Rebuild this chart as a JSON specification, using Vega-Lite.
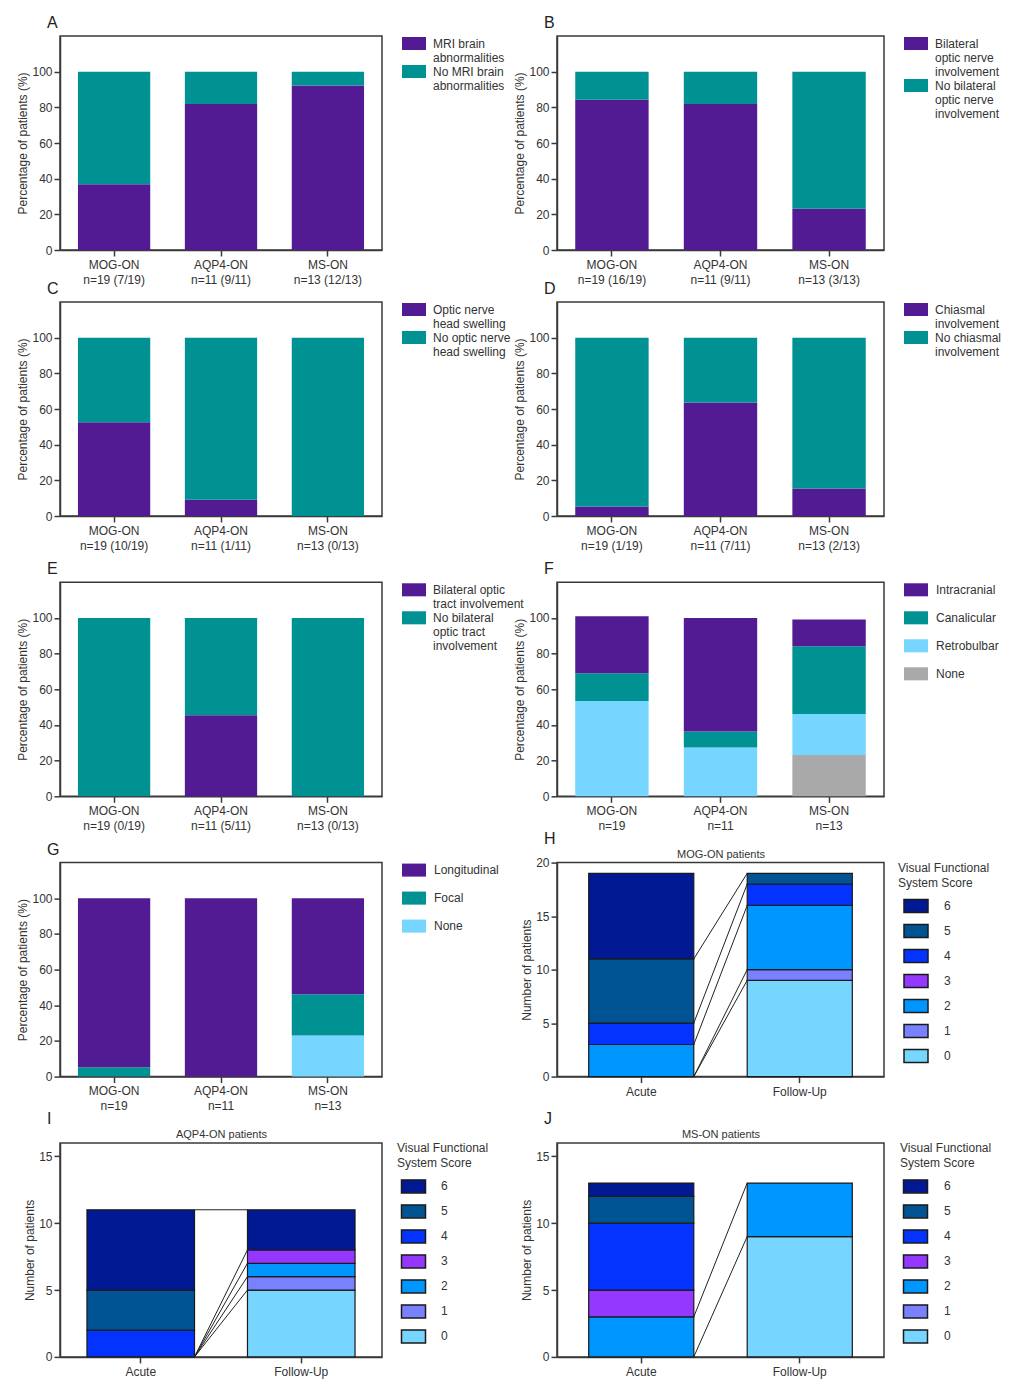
{
  "$schema": "https://vega.github.io/schema/vega-lite/v6.json",
  "padding": {"left": 16, "top": 14, "right": 2, "bottom": 2},
  "spacing": -6,
  "resolve": {"scale": {"color": "independent"}, "legend": {"color": "independent"}},
  "config": {
    "font": "Liberation Sans",
    "view": {"stroke": "#3a3a3a", "strokeWidth": 1.5},
    "axis": {"domainColor": "#3a3a3a", "domainWidth": 1.5, "tickColor": "#3a3a3a", "tickWidth": 1.5, "tickSize": 6, "labelFontSize": 12, "labelColor": "#333", "titleFontSize": 12, "titleFontWeight": "normal", "titleColor": "#333", "grid": false},
    "axisY": {"titlePadding": 2, "labelPadding": 2},
    "axisX": {"labelPadding": 3, "labelAngle": 0},
    "legend": {"labelFontSize": 12, "labelColor": "#333", "titleFontSize": 12, "titleFontWeight": "normal", "titleColor": "#333", "symbolType": "M-1.6,-0.87H1.6V0.87H-1.6Z", "symbolSize": 225, "symbolStrokeWidth": 0, "symbolOffset": 4.5, "offset": 20, "labelOffset": 11.5},
    "title": {"anchor": "start", "frame": "group", "fontSize": 16, "fontWeight": "normal", "dx": -13, "offset": 5, "color": "#222"}
  },
  "vconcat": [
    {
      "bounds": "flush",
      "spacing": 175,
      "resolve": {"scale": {"color": "independent"}, "legend": {"color": "independent"}},
      "hconcat": [
        {
          "title": {"text": "A"},
          "width": 322, "height": 214,
          "data": {"values": [
            {"g": "MOG-ON\nn=19 (7/19)", "c": "MRI brain\nabnormalities", "k": 1, "pct": 36.8},
            {"g": "MOG-ON\nn=19 (7/19)", "c": "No MRI brain\nabnormalities", "k": 2, "pct": 63.2},
            {"g": "AQP4-ON\nn=11 (9/11)", "c": "MRI brain\nabnormalities", "k": 1, "pct": 81.8},
            {"g": "AQP4-ON\nn=11 (9/11)", "c": "No MRI brain\nabnormalities", "k": 2, "pct": 18.2},
            {"g": "MS-ON\nn=13 (12/13)", "c": "MRI brain\nabnormalities", "k": 1, "pct": 92.3},
            {"g": "MS-ON\nn=13 (12/13)", "c": "No MRI brain\nabnormalities", "k": 2, "pct": 7.7}
          ]},
          "mark": "bar",
          "encoding": {
            "x": {"field": "g", "type": "nominal", "sort": null, "title": null, "scale": {"paddingInner": 0.324, "paddingOuter": 0.168}, "axis": {"labelExpr": "split(datum.label, '\\n')", "labelLineHeight": 15}},
            "y": {"field": "pct", "type": "quantitative", "scale": {"domain": [0, 120]}, "axis": {"values": [0, 20, 40, 60, 80, 100], "title": "Percentage of patients (%)"}},
            "color": {"field": "c", "type": "nominal", "title": null, "scale": {"domain": ["MRI brain\nabnormalities", "No MRI brain\nabnormalities"], "range": ["#531B93", "#009193"]}, "legend": {"labelExpr": "split(datum.label, '\\n')", "rowPadding": 0}},
            "order": {"field": "k", "type": "quantitative"}
          }
        },
        {
          "title": {"text": "B"},
          "width": 327, "height": 214,
          "data": {"values": [
            {"g": "MOG-ON\nn=19 (16/19)", "c": "Bilateral\noptic nerve\ninvolvement", "k": 1, "pct": 84.2},
            {"g": "MOG-ON\nn=19 (16/19)", "c": "No bilateral\noptic nerve\ninvolvement", "k": 2, "pct": 15.8},
            {"g": "AQP4-ON\nn=11 (9/11)", "c": "Bilateral\noptic nerve\ninvolvement", "k": 1, "pct": 81.8},
            {"g": "AQP4-ON\nn=11 (9/11)", "c": "No bilateral\noptic nerve\ninvolvement", "k": 2, "pct": 18.2},
            {"g": "MS-ON\nn=13 (3/13)", "c": "Bilateral\noptic nerve\ninvolvement", "k": 1, "pct": 23.1},
            {"g": "MS-ON\nn=13 (3/13)", "c": "No bilateral\noptic nerve\ninvolvement", "k": 2, "pct": 76.9}
          ]},
          "mark": "bar",
          "encoding": {
            "x": {"field": "g", "type": "nominal", "sort": null, "title": null, "scale": {"paddingInner": 0.324, "paddingOuter": 0.168}, "axis": {"labelExpr": "split(datum.label, '\\n')", "labelLineHeight": 15}},
            "y": {"field": "pct", "type": "quantitative", "scale": {"domain": [0, 120]}, "axis": {"values": [0, 20, 40, 60, 80, 100], "title": "Percentage of patients (%)"}},
            "color": {"field": "c", "type": "nominal", "title": null, "scale": {"domain": ["Bilateral\noptic nerve\ninvolvement", "No bilateral\noptic nerve\ninvolvement"], "range": ["#531B93", "#009193"]}, "legend": {"labelExpr": "split(datum.label, '\\n')", "rowPadding": 0}},
            "order": {"field": "k", "type": "quantitative"}
          }
        }
      ]
    },
    {
      "columns": 2,
      "bounds": "flush",
      "spacing": {"row": 66.3, "column": 175},
      "resolve": {"scale": {"color": "independent"}, "legend": {"color": "independent"}},
      "concat": [
        {
          "title": {"text": "C"},
          "width": 322, "height": 214,
          "data": {"values": [
            {"g": "MOG-ON\nn=19 (10/19)", "c": "Optic nerve\nhead swelling", "k": 1, "pct": 52.6},
            {"g": "MOG-ON\nn=19 (10/19)", "c": "No optic nerve\nhead swelling", "k": 2, "pct": 47.4},
            {"g": "AQP4-ON\nn=11 (1/11)", "c": "Optic nerve\nhead swelling", "k": 1, "pct": 9.1},
            {"g": "AQP4-ON\nn=11 (1/11)", "c": "No optic nerve\nhead swelling", "k": 2, "pct": 90.9},
            {"g": "MS-ON\nn=13 (0/13)", "c": "No optic nerve\nhead swelling", "k": 2, "pct": 100}
          ]},
          "mark": "bar",
          "encoding": {
            "x": {"field": "g", "type": "nominal", "sort": null, "title": null, "scale": {"paddingInner": 0.324, "paddingOuter": 0.168}, "axis": {"labelExpr": "split(datum.label, '\\n')", "labelLineHeight": 15}},
            "y": {"field": "pct", "type": "quantitative", "scale": {"domain": [0, 120]}, "axis": {"values": [0, 20, 40, 60, 80, 100], "title": "Percentage of patients (%)"}},
            "color": {"field": "c", "type": "nominal", "title": null, "scale": {"domain": ["Optic nerve\nhead swelling", "No optic nerve\nhead swelling"], "range": ["#531B93", "#009193"]}, "legend": {"labelExpr": "split(datum.label, '\\n')", "rowPadding": 0}},
            "order": {"field": "k", "type": "quantitative"}
          }
        },
        {
          "title": {"text": "D"},
          "width": 327, "height": 214,
          "data": {"values": [
            {"g": "MOG-ON\nn=19 (1/19)", "c": "Chiasmal\ninvolvement", "k": 1, "pct": 5.3},
            {"g": "MOG-ON\nn=19 (1/19)", "c": "No chiasmal\ninvolvement", "k": 2, "pct": 94.7},
            {"g": "AQP4-ON\nn=11 (7/11)", "c": "Chiasmal\ninvolvement", "k": 1, "pct": 63.6},
            {"g": "AQP4-ON\nn=11 (7/11)", "c": "No chiasmal\ninvolvement", "k": 2, "pct": 36.4},
            {"g": "MS-ON\nn=13 (2/13)", "c": "Chiasmal\ninvolvement", "k": 1, "pct": 15.4},
            {"g": "MS-ON\nn=13 (2/13)", "c": "No chiasmal\ninvolvement", "k": 2, "pct": 84.6}
          ]},
          "mark": "bar",
          "encoding": {
            "x": {"field": "g", "type": "nominal", "sort": null, "title": null, "scale": {"paddingInner": 0.324, "paddingOuter": 0.168}, "axis": {"labelExpr": "split(datum.label, '\\n')", "labelLineHeight": 15}},
            "y": {"field": "pct", "type": "quantitative", "scale": {"domain": [0, 120]}, "axis": {"values": [0, 20, 40, 60, 80, 100], "title": "Percentage of patients (%)"}},
            "color": {"field": "c", "type": "nominal", "title": null, "scale": {"domain": ["Chiasmal\ninvolvement", "No chiasmal\ninvolvement"], "range": ["#531B93", "#009193"]}, "legend": {"labelExpr": "split(datum.label, '\\n')", "rowPadding": 0}},
            "order": {"field": "k", "type": "quantitative"}
          }
        },
        {
          "title": {"text": "E"},
          "width": 322, "height": 214,
          "data": {"values": [
            {"g": "MOG-ON\nn=19 (0/19)", "c": "No bilateral\noptic tract\ninvolvement", "k": 2, "pct": 100},
            {"g": "AQP4-ON\nn=11 (5/11)", "c": "Bilateral optic\ntract involvement", "k": 1, "pct": 45.5},
            {"g": "AQP4-ON\nn=11 (5/11)", "c": "No bilateral\noptic tract\ninvolvement", "k": 2, "pct": 54.5},
            {"g": "MS-ON\nn=13 (0/13)", "c": "No bilateral\noptic tract\ninvolvement", "k": 2, "pct": 100}
          ]},
          "mark": "bar",
          "encoding": {
            "x": {"field": "g", "type": "nominal", "sort": null, "title": null, "scale": {"paddingInner": 0.324, "paddingOuter": 0.168}, "axis": {"labelExpr": "split(datum.label, '\\n')", "labelLineHeight": 15}},
            "y": {"field": "pct", "type": "quantitative", "scale": {"domain": [0, 120]}, "axis": {"values": [0, 20, 40, 60, 80, 100], "title": "Percentage of patients (%)"}},
            "color": {"field": "c", "type": "nominal", "title": null, "scale": {"domain": ["Bilateral optic\ntract involvement", "No bilateral\noptic tract\ninvolvement"], "range": ["#531B93", "#009193"]}, "legend": {"labelExpr": "split(datum.label, '\\n')", "rowPadding": 0}},
            "order": {"field": "k", "type": "quantitative"}
          }
        },
        {
          "title": {"text": "F"},
          "width": 327, "height": 214,
          "data": {"values": [
            {"g": "MOG-ON\nn=19", "c": "Retrobulbar", "k": 2, "pct": 53.5},
            {"g": "MOG-ON\nn=19", "c": "Canalicular", "k": 3, "pct": 15.5},
            {"g": "MOG-ON\nn=19", "c": "Intracranial", "k": 4, "pct": 32},
            {"g": "AQP4-ON\nn=11", "c": "Retrobulbar", "k": 2, "pct": 27.3},
            {"g": "AQP4-ON\nn=11", "c": "Canalicular", "k": 3, "pct": 9.1},
            {"g": "AQP4-ON\nn=11", "c": "Intracranial", "k": 4, "pct": 63.6},
            {"g": "MS-ON\nn=13", "c": "None", "k": 1, "pct": 23.1},
            {"g": "MS-ON\nn=13", "c": "Retrobulbar", "k": 2, "pct": 23.1},
            {"g": "MS-ON\nn=13", "c": "Canalicular", "k": 3, "pct": 38},
            {"g": "MS-ON\nn=13", "c": "Intracranial", "k": 4, "pct": 15}
          ]},
          "mark": "bar",
          "encoding": {
            "x": {"field": "g", "type": "nominal", "sort": null, "title": null, "scale": {"paddingInner": 0.324, "paddingOuter": 0.168}, "axis": {"labelExpr": "split(datum.label, '\\n')", "labelLineHeight": 15}},
            "y": {"field": "pct", "type": "quantitative", "scale": {"domain": [0, 120]}, "axis": {"values": [0, 20, 40, 60, 80, 100], "title": "Percentage of patients (%)"}},
            "color": {"field": "c", "type": "nominal", "title": null, "scale": {"domain": ["Intracranial", "Canalicular", "Retrobulbar", "None"], "range": ["#531B93", "#009193", "#76D6FF", "#A9A9A9"]}, "legend": {"rowPadding": 13, "labelOffset": 12.5}},
            "order": {"field": "k", "type": "quantitative"}
          }
        },
        {
          "title": {"text": "G"},
          "width": 322, "height": 214,
          "data": {"values": [
            {"g": "MOG-ON\nn=19", "c": "Focal", "k": 2, "pct": 5.3},
            {"g": "MOG-ON\nn=19", "c": "Longitudinal", "k": 3, "pct": 94.7},
            {"g": "AQP4-ON\nn=11", "c": "Longitudinal", "k": 3, "pct": 100},
            {"g": "MS-ON\nn=13", "c": "None", "k": 1, "pct": 23.1},
            {"g": "MS-ON\nn=13", "c": "Focal", "k": 2, "pct": 23.1},
            {"g": "MS-ON\nn=13", "c": "Longitudinal", "k": 3, "pct": 53.8}
          ]},
          "mark": "bar",
          "encoding": {
            "x": {"field": "g", "type": "nominal", "sort": null, "title": null, "scale": {"paddingInner": 0.324, "paddingOuter": 0.168}, "axis": {"labelExpr": "split(datum.label, '\\n')", "labelLineHeight": 15}},
            "y": {"field": "pct", "type": "quantitative", "scale": {"domain": [0, 120]}, "axis": {"values": [0, 20, 40, 60, 80, 100], "title": "Percentage of patients (%)"}},
            "color": {"field": "c", "type": "nominal", "title": null, "scale": {"domain": ["Longitudinal", "Focal", "None"], "range": ["#531B93", "#009193", "#76D6FF"]}, "legend": {"rowPadding": 13, "labelOffset": 12.5}},
            "order": {"field": "k", "type": "quantitative"}
          }
        },
        {
          "title": {"text": "H", "offset": 2},
          "width": 327, "height": 214,
          "layer": [
            {
              "data": {"values": [
                {"t": "Acute", "s": 2, "n": 3}, {"t": "Acute", "s": 4, "n": 2}, {"t": "Acute", "s": 5, "n": 6}, {"t": "Acute", "s": 6, "n": 8},
                {"t": "Follow-Up", "s": 0, "n": 9}, {"t": "Follow-Up", "s": 1, "n": 1}, {"t": "Follow-Up", "s": 2, "n": 6}, {"t": "Follow-Up", "s": 4, "n": 2}, {"t": "Follow-Up", "s": 5, "n": 1}
              ]},
              "mark": {"type": "bar", "stroke": "#1a1a1a", "strokeWidth": 1.2},
              "encoding": {
                "x": {"field": "t", "type": "nominal", "title": null, "scale": {"paddingInner": 0.337, "paddingOuter": 0.2}, "axis": {"labelPadding": 4}},
                "y": {"field": "n", "type": "quantitative", "scale": {"domain": [0, 20]}, "axis": {"values": [0, 5, 10, 15, 20]}, "title": "Number of patients"},
                "color": {"field": "s", "type": "nominal", "scale": {"domain": [6, 5, 4, 3, 2, 1, 0], "range": ["#011993", "#005493", "#0433FF", "#9437FF", "#0096FF", "#7A81FF", "#76D6FF"]}, "legend": {"title": ["Visual Functional", "System Score"], "titleAlign": "left", "titleAnchor": "start", "titleLineHeight": 15, "titlePadding": 8, "symbolStrokeColor": "#1a1a1a", "symbolStrokeWidth": 1.5, "symbolOffset": 9.5, "labelOffset": 19.5, "rowPadding": 4, "offset": 14}},
                "order": {"field": "s", "type": "quantitative"}
              }
            },
            {
              "data": {"values": [
                {"a": "Acute", "b": "Follow-Up", "from": 11, "to": 19},
                {"a": "Acute", "b": "Follow-Up", "from": 5, "to": 18},
                {"a": "Acute", "b": "Follow-Up", "from": 3, "to": 16},
                {"a": "Acute", "b": "Follow-Up", "from": 0, "to": 10},
                {"a": "Acute", "b": "Follow-Up", "from": 0, "to": 9}
              ]},
              "mark": {"type": "rule", "color": "#222", "strokeWidth": 1},
              "encoding": {
                "x": {"field": "a", "type": "nominal", "bandPosition": 1, "axis": {"orient": "top", "title": "MOG-ON patients", "titleFontSize": 11, "labels": false, "ticks": false, "domain": false, "titlePadding": 3}},
                "x2": {"field": "b", "bandPosition": 0},
                "y": {"field": "from", "type": "quantitative", "title": "Number of patients"},
                "y2": {"field": "to"}
              }
            }
          ],
          "resolve": {"axis": {"x": "independent"}}
        },
        {
          "title": {"text": "I", "offset": 2},
          "width": 322, "height": 214,
          "layer": [
            {
              "data": {"values": [
                {"t": "Acute", "s": 4, "n": 2}, {"t": "Acute", "s": 5, "n": 3}, {"t": "Acute", "s": 6, "n": 6},
                {"t": "Follow-Up", "s": 0, "n": 5}, {"t": "Follow-Up", "s": 1, "n": 1}, {"t": "Follow-Up", "s": 2, "n": 1}, {"t": "Follow-Up", "s": 3, "n": 1}, {"t": "Follow-Up", "s": 6, "n": 3}
              ]},
              "mark": {"type": "bar", "stroke": "#1a1a1a", "strokeWidth": 1.2},
              "encoding": {
                "x": {"field": "t", "type": "nominal", "title": null, "scale": {"paddingInner": 0.33, "paddingOuter": 0.168}, "axis": {"labelPadding": 4}},
                "y": {"field": "n", "type": "quantitative", "scale": {"domain": [0, 15]}, "axis": {"values": [0, 5, 10, 15]}, "title": "Number of patients"},
                "color": {"field": "s", "type": "nominal", "scale": {"domain": [6, 5, 4, 3, 2, 1, 0], "range": ["#011993", "#005493", "#0433FF", "#9437FF", "#0096FF", "#7A81FF", "#76D6FF"]}, "legend": {"title": ["Visual Functional", "System Score"], "titleAlign": "left", "titleAnchor": "start", "titleLineHeight": 15, "titlePadding": 8, "symbolStrokeColor": "#1a1a1a", "symbolStrokeWidth": 1.5, "symbolOffset": 8, "labelOffset": 19, "rowPadding": 4, "offset": 15}},
                "order": {"field": "s", "type": "quantitative"}
              }
            },
            {
              "data": {"values": [
                {"a": "Acute", "b": "Follow-Up", "from": 11, "to": 11},
                {"a": "Acute", "b": "Follow-Up", "from": 0, "to": 8},
                {"a": "Acute", "b": "Follow-Up", "from": 0, "to": 7},
                {"a": "Acute", "b": "Follow-Up", "from": 0, "to": 6},
                {"a": "Acute", "b": "Follow-Up", "from": 0, "to": 5}
              ]},
              "mark": {"type": "rule", "color": "#222", "strokeWidth": 1},
              "encoding": {
                "x": {"field": "a", "type": "nominal", "bandPosition": 1, "axis": {"orient": "top", "title": "AQP4-ON patients", "titleFontSize": 11, "labels": false, "ticks": false, "domain": false, "titlePadding": 3}},
                "x2": {"field": "b", "bandPosition": 0},
                "y": {"field": "from", "type": "quantitative", "title": "Number of patients"},
                "y2": {"field": "to"}
              }
            }
          ],
          "resolve": {"axis": {"x": "independent"}}
        },
        {
          "title": {"text": "J", "offset": 2},
          "width": 327, "height": 214,
          "layer": [
            {
              "data": {"values": [
                {"t": "Acute", "s": 2, "n": 3}, {"t": "Acute", "s": 3, "n": 2}, {"t": "Acute", "s": 4, "n": 5}, {"t": "Acute", "s": 5, "n": 2}, {"t": "Acute", "s": 6, "n": 1},
                {"t": "Follow-Up", "s": 0, "n": 9}, {"t": "Follow-Up", "s": 2, "n": 4}
              ]},
              "mark": {"type": "bar", "stroke": "#1a1a1a", "strokeWidth": 1.2},
              "encoding": {
                "x": {"field": "t", "type": "nominal", "title": null, "scale": {"paddingInner": 0.337, "paddingOuter": 0.2}, "axis": {"labelPadding": 4}},
                "y": {"field": "n", "type": "quantitative", "scale": {"domain": [0, 15]}, "axis": {"values": [0, 5, 10, 15]}, "title": "Number of patients"},
                "color": {"field": "s", "type": "nominal", "scale": {"domain": [6, 5, 4, 3, 2, 1, 0], "range": ["#011993", "#005493", "#0433FF", "#9437FF", "#0096FF", "#7A81FF", "#76D6FF"]}, "legend": {"title": ["Visual Functional", "System Score"], "titleAlign": "left", "titleAnchor": "start", "titleLineHeight": 15, "titlePadding": 8, "symbolStrokeColor": "#1a1a1a", "symbolStrokeWidth": 1.5, "symbolOffset": 7, "labelOffset": 20, "rowPadding": 4, "offset": 16}},
                "order": {"field": "s", "type": "quantitative"}
              }
            },
            {
              "data": {"values": [
                {"a": "Acute", "b": "Follow-Up", "from": 3, "to": 13},
                {"a": "Acute", "b": "Follow-Up", "from": 0, "to": 9}
              ]},
              "mark": {"type": "rule", "color": "#222", "strokeWidth": 1},
              "encoding": {
                "x": {"field": "a", "type": "nominal", "bandPosition": 1, "axis": {"orient": "top", "title": "MS-ON patients", "titleFontSize": 11, "labels": false, "ticks": false, "domain": false, "titlePadding": 3}},
                "x2": {"field": "b", "bandPosition": 0},
                "y": {"field": "from", "type": "quantitative", "title": "Number of patients"},
                "y2": {"field": "to"}
              }
            }
          ],
          "resolve": {"axis": {"x": "independent"}}
        }
      ]
    }
  ]
}
